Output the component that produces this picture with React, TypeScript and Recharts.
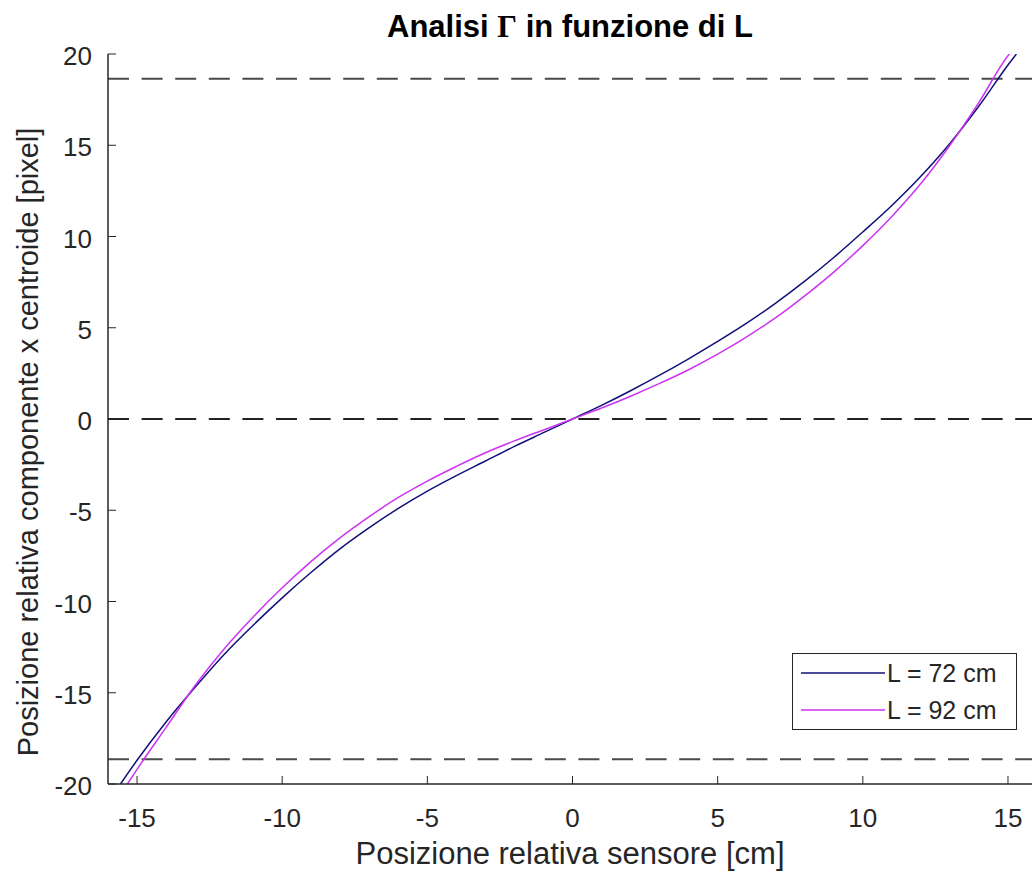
import React from 'react';
import { LineChart, Line, XAxis, YAxis, ReferenceLine } from 'recharts';

// --- values ---
const X_72 = [-15.57, -15, -14, -13, -12, -11, -10, -9, -8, -7, -6, -5, -4, -3, -2, -1, 0, 1, 2, 3, 4, 5, 6, 7, 8, 9, 10, 11, 12, 13, 14, 15, 15.29];
const Y_72 = [-20, -18.7, -16.6, -14.7, -12.9, -11.3, -9.8, -8.4, -7.1, -5.95, -4.9, -3.95, -3.1, -2.3, -1.5, -0.75, 0, 0.75, 1.55, 2.4, 3.3, 4.25, 5.25, 6.35, 7.55, 8.85, 10.25, 11.7, 13.3, 15.1, 17.15, 19.4, 20];

const X_92 = [-15.33, -15, -14, -13, -12, -11, -10, -9, -8, -7, -6, -5, -4, -3, -2, -1, 0, 1, 2, 3, 4, 5, 6, 7, 8, 9, 10, 11, 12, 13, 14, 15, 15.05];
const Y_92 = [-20, -19.2, -16.9, -14.6, -12.6, -10.85, -9.25, -7.8, -6.5, -5.35, -4.3, -3.4, -2.6, -1.85, -1.2, -0.6, 0, 0.6, 1.25, 1.95, 2.7, 3.55, 4.5, 5.55, 6.75, 8.05, 9.5, 11.1, 12.9, 15.0, 17.35, 19.9, 20];

const X_TICKS = [-15, -10, -5, 0, 5, 10, 15];
const Y_TICKS = [-20, -15, -10, -5, 0, 5, 10, 15, 20];
const LIMIT_LINES = [18.65, 0, -18.65];
const SERIES = [
  { name: 'L = 72 cm', color: '#10107a' },
  { name: 'L = 92 cm', color: '#cc33f2' },
];

const data72 = X_72.map((x, i) => ({ x, y: Y_72[i] }));
const data92 = X_92.map((x, i) => ({ x, y: Y_92[i] }));

const FONT = '"Liberation Sans", Arial, Helvetica, sans-serif';
const INK = '#262626';

// MATLAB-style ticks pointing inward
const XTick = (props: any) => {
  const { x, y, payload } = props;
  return (
    <g>
      <line x1={x} x2={x} y1={y} y2={y - 8} stroke={INK} strokeWidth={1} />
      <text x={x} y={y + 43} textAnchor="middle" fontSize={26} fontFamily={FONT} fill={INK}>
        {payload.value}
      </text>
    </g>
  );
};

const YTick = (props: any) => {
  const { x, y, payload } = props;
  return (
    <g>
      <line x1={x} x2={x + 8} y1={y} y2={y} stroke={INK} strokeWidth={1} />
      <text x={x - 16} y={y + 11} textAnchor="end" fontSize={26} fontFamily={FONT} fill={INK}>
        {payload.value}
      </text>
    </g>
  );
};

const LegendBox = () => (
  <svg width={226} height={78} style={{ position: 'absolute', left: 792, top: 653 }}>
    <rect x={0.5} y={0.5} width={224} height={76} fill="#fff" stroke={INK} strokeWidth={1} />
    {SERIES.map((s, i) => (
      <g key={s.name}>
        <line x1={9} x2={93} y1={20 + i * 37} y2={20 + i * 37} stroke={s.color} strokeWidth={1.5} />
        <text x={95} y={29 + i * 37} fontSize={25} fontFamily={FONT} fill={INK}>
          {s.name}
        </text>
      </g>
    ))}
  </svg>
);

export default function App() {
  return (
    <div style={{ position: 'fixed', left: 0, top: 0, width: 1032, height: 877, overflow: 'hidden', background: '#fff', fontFamily: FONT }}>
      <LineChart width={1045} height={877} margin={{ top: 54, right: 8, bottom: 0, left: 0 }}>
        <XAxis
          type="number"
          dataKey="x"
          domain={[-16, 16]}
          ticks={X_TICKS}
          allowDataOverflow
          tickSize={0}
          tickMargin={0}
          tickLine={false}
          axisLine={{ stroke: INK, strokeWidth: 1.5 }}
          height={93}
          tick={<XTick />}
        />
        <YAxis
          type="number"
          dataKey="y"
          domain={[-20, 20]}
          ticks={Y_TICKS}
          allowDataOverflow
          tickSize={0}
          tickMargin={0}
          tickLine={false}
          axisLine={{ stroke: INK, strokeWidth: 1.5 }}
          width={108}
          tick={<YTick />}
        />
        {LIMIT_LINES.map((v) => (
          <ReferenceLine
            key={v}
            y={v}
            stroke={v === 0 ? '#222' : '#4a4a4a'}
            strokeWidth={2}
            strokeDasharray="21 12.6"
          />
        ))}
        <Line data={data72} dataKey="y" name={SERIES[0].name} type="monotone" stroke={SERIES[0].color} strokeWidth={1.5} dot={false} isAnimationActive={false} />
        <Line data={data92} dataKey="y" name={SERIES[1].name} type="monotone" stroke={SERIES[1].color} strokeWidth={1.5} dot={false} isAnimationActive={false} />
      </LineChart>
      <LegendBox />
      <svg width={1032} height={877} style={{ position: 'absolute', left: 0, top: 0, pointerEvents: 'none' }}>
        <text x={570} y={37} textAnchor="middle" fontSize={31} fontWeight="bold" fontFamily={FONT} fill="#000">
          Analisi <tspan fontFamily='"Liberation Serif", "DejaVu Serif", serif'>Γ</tspan> in funzione di L
        </text>
        <text x={570} y={864} textAnchor="middle" fontSize={31} fontFamily={FONT} fill={INK}>
          Posizione relativa sensore [cm]
        </text>
        <text x={38} y={442} transform="rotate(-90 38 442)" textAnchor="middle" fontSize={29} fontFamily={FONT} fill={INK}>
          Posizione relativa componente x centroide [pixel]
        </text>
      </svg>
    </div>
  );
}
